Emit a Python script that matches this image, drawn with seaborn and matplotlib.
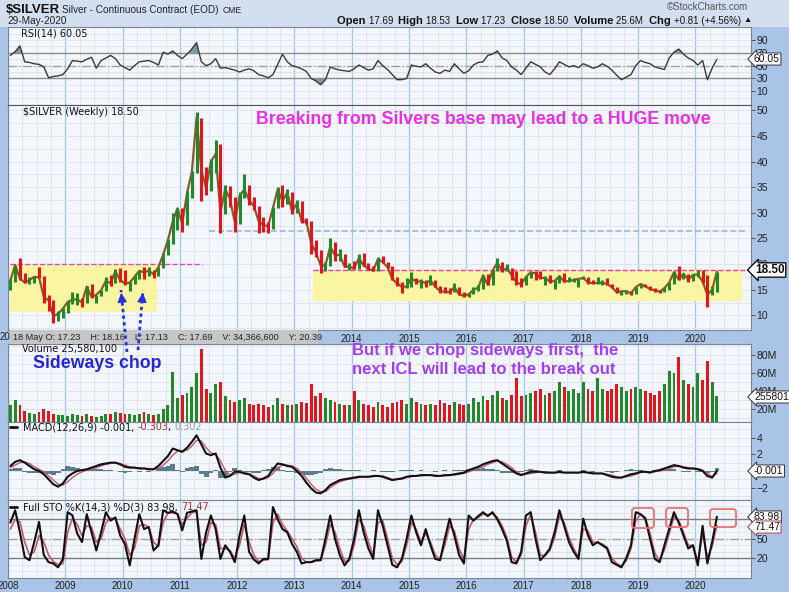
import matplotlib
matplotlib.use('Agg')
import numpy as np
import pandas as pd
import matplotlib.pyplot as plt
from matplotlib.patches import Rectangle, FancyBboxPatch, FancyArrowPatch
from matplotlib.lines import Line2D
import seaborn as sns

sns.set_theme(style='white')
plt.rcParams['font.family'] = ['Liberation Sans', 'DejaVu Sans']

W, H = 789, 592

# monthly values, Jan 2008 .. May 2020
close = [16.8, 19.8, 17.2, 16.4, 16.9, 17.5, 17.4, 13.6, 12.9, 9.8, 10.3, 11.3,
         12.6, 13.1, 13.1, 12.5, 15.6, 13.6, 14.0, 14.9, 16.7, 16.3, 18.6, 16.9,
         16.2, 16.4, 17.5, 18.7, 18.4, 18.7, 18.0, 19.4, 21.8, 24.7, 28.3, 30.9,
         27.9, 33.9, 37.9, 48.6, 38.3, 34.9, 40.0, 41.5, 30.1, 34.7, 32.7, 28.2,
         33.3, 34.6, 32.5, 31.3, 28.4, 27.6, 27.4, 31.0, 34.6, 32.3, 34.0, 30.3,
         31.8, 28.4, 28.3, 24.1, 22.3, 19.7, 19.8, 23.4, 21.7, 21.8, 19.5, 19.5,
         19.1, 21.2, 19.7, 19.1, 18.7, 21.0, 20.4, 19.4, 17.1, 16.2, 15.6, 15.6,
         17.2, 16.6, 16.6, 16.3, 16.8, 15.6, 14.7, 14.6, 14.5, 15.5, 14.1, 13.8,
         14.1, 15.0, 15.4, 17.8, 16.0, 18.7, 20.3, 18.7, 19.2, 17.8, 16.5, 16.0,
         17.5, 18.4, 18.2, 17.3, 17.3, 16.6, 16.7, 17.6, 16.6, 16.7, 16.9, 17.1,
         17.3, 16.4, 16.3, 16.3, 16.4, 16.1, 15.5, 14.5, 14.7, 14.7, 14.3, 15.5,
         16.1, 15.7, 15.1, 14.9, 14.6, 15.3, 16.4, 18.4, 17.0, 18.1, 17.0, 17.9,
         18.0, 16.6, 14.0, 15.0, 18.5]
high = [17.0, 19.9, 21.2, 18.2, 17.5, 17.6, 19.5, 17.7, 13.9, 12.9, 10.9, 11.5,
        12.7, 14.6, 14.3, 13.4, 15.7, 16.2, 14.0, 15.0, 17.4, 17.9, 19.0, 19.2,
        18.8, 16.5, 17.8, 18.8, 19.5, 19.5, 18.8, 19.5, 22.1, 24.9, 30.0, 30.9,
        31.0, 34.3, 38.1, 49.8, 48.6, 38.9, 40.6, 44.3, 43.5, 35.5, 35.3, 33.1,
        34.0, 37.5, 35.4, 33.2, 31.4, 29.2, 28.2, 31.2, 35.0, 35.4, 34.6, 34.1,
        32.5, 32.3, 29.1, 28.5, 24.8, 22.8, 20.5, 25.0, 24.3, 22.9, 22.0, 20.2,
        20.6, 21.9, 22.1, 20.2, 19.7, 21.3, 21.6, 20.5, 19.6, 17.4, 16.5, 17.3,
        18.5, 17.3, 17.1, 16.9, 17.8, 16.9, 15.7, 15.6, 15.3, 16.4, 15.4, 14.5,
        14.4, 15.6, 15.9, 17.9, 18.0, 18.8, 21.1, 20.4, 20.1, 19.3, 18.7, 17.2,
        17.6, 18.5, 18.6, 18.6, 17.6, 17.8, 16.9, 17.9, 18.2, 17.4, 17.3, 17.1,
        17.6, 17.4, 16.8, 17.4, 16.9, 17.3, 16.2, 15.6, 14.8, 14.9, 14.8, 15.6,
        16.2, 16.2, 15.8, 15.3, 15.0, 15.5, 16.6, 18.7, 19.6, 18.2, 18.1, 18.1,
        18.9, 18.9, 17.9, 15.8, 18.5]
low = [14.9, 16.6, 16.9, 16.3, 16.2, 16.3, 17.2, 12.5, 10.9, 8.5, 8.8, 9.5,
       10.5, 12.2, 12.1, 11.6, 12.4, 13.4, 12.5, 13.7, 14.8, 15.8, 16.3, 16.6,
       16.0, 14.7, 16.2, 17.1, 17.0, 17.6, 17.3, 17.6, 19.2, 21.9, 24.0, 26.7,
       26.3, 27.7, 32.9, 37.8, 32.3, 33.5, 34.3, 37.7, 26.1, 29.7, 31.1, 26.2,
       27.9, 32.9, 31.5, 30.6, 26.1, 26.2, 26.0, 26.9, 31.0, 31.2, 31.7, 29.7,
       30.0, 28.0, 27.9, 22.0, 21.3, 18.2, 18.6, 19.6, 20.7, 20.6, 19.5, 18.8,
       19.1, 19.1, 19.6, 18.9, 18.7, 18.7, 20.3, 19.3, 16.9, 15.8, 14.3, 15.3,
       15.6, 16.1, 15.3, 15.6, 16.0, 15.6, 14.3, 14.3, 14.2, 14.5, 13.9, 13.6,
       13.6, 14.1, 14.8, 15.1, 15.9, 15.9, 18.6, 18.5, 18.6, 16.9, 16.0, 15.6,
       15.9, 17.2, 16.8, 17.1, 15.9, 16.4, 15.2, 16.3, 16.6, 16.5, 16.6, 15.6,
       17.0, 16.2, 16.1, 16.2, 16.0, 16.0, 15.4, 14.3, 13.9, 14.2, 13.9, 14.2,
       15.3, 15.5, 14.9, 14.6, 14.3, 14.6, 15.0, 16.2, 16.9, 17.0, 16.6, 16.7,
       17.4, 16.4, 11.6, 13.9, 14.6]
first_open = 15.5

# volume, millions
volume = [24, 30, 24, 18, 16, 15, 17, 20, 18, 15, 13, 13,
          12, 15, 13, 12, 14, 12, 11, 12, 15, 14, 17, 16,
          15, 14, 13, 15, 17, 15, 13, 15, 20, 24, 61, 32,
          36, 38, 44, 60, 87, 42, 38, 48, 50, 34, 30, 28,
          30, 32, 26, 24, 26, 24, 22, 24, 32, 26, 24, 25,
          26, 28, 27, 48, 34, 38, 32, 30, 28, 26, 25, 24,
          40, 30, 26, 24, 22, 28, 24, 22, 27, 28, 30, 26,
          32, 28, 26, 24, 26, 25, 30, 27, 25, 28, 26, 24,
          26, 32, 28, 34, 30, 36, 40, 32, 30, 36, 55, 34,
          36, 38, 40, 42, 36, 38, 40, 50, 44, 40, 42, 38,
          50, 42, 40, 55, 42, 40, 42, 48, 44, 40, 42, 45,
          42, 40, 38, 36, 40, 48, 62, 60, 78, 52, 48, 44,
          60, 52, 73, 50, 34]

rsi = [66, 72, 81, 56, 55, 53, 52, 48, 31, 33, 34, 36,
       45, 58, 57, 56, 60, 63, 46, 58, 62, 66, 61, 51,
       47, 43, 50, 56, 57, 58, 55, 51, 71, 68, 73, 66,
       61, 68, 76, 86, 56, 50, 53, 61, 46, 47, 45, 43,
       40, 43, 45, 42, 36, 34, 31, 36, 52, 68, 56, 50,
       48, 45, 41, 30, 26, 20, 28, 48, 45, 43, 42, 41,
       45, 51, 47, 43, 45, 58, 50, 44, 36, 28, 28, 30,
       51, 49, 48, 53, 46, 40, 38, 43, 41, 53, 45, 38,
       42, 51, 55, 56, 66, 68, 73, 62, 58, 48, 43, 36,
       46, 56, 52, 48, 40, 36, 45, 56, 52, 48, 50, 47,
       53, 50, 46, 48, 53, 49, 43, 35, 28, 32, 36, 50,
       58, 55, 53, 48, 46, 44, 62, 71, 76, 68, 62, 58,
       51, 58, 28, 46, 60]

macd = [0.6, 1.1, 1.3, 1.0, 0.6, 0.2, 0.0, -0.4, -1.0, -1.6, -1.9, -1.5,
        -0.7, -0.3, 0.0, 0.1, 0.2, 0.4, 0.6, 0.8, 0.9, 1.0, 1.0, 0.8,
        0.5, 0.4, 0.4, 0.3, 0.3, 0.2, 0.2, 0.6, 1.2, 1.8, 2.7, 2.5,
        2.3, 2.8, 3.5, 4.3, 3.2, 2.1, 1.9, 2.1, 0.4, -0.8, -0.6, -0.1,
        -0.1, -0.3, -0.4, -0.8, -1.1, -0.9, -0.6, 0.2, 0.9, 0.8, 0.6, 0.5,
        0.0, -0.6, -1.4, -2.1, -2.6, -2.7, -2.3, -1.7, -1.4, -1.1, -1.0, -0.9,
        -0.8, -0.7, -0.7, -0.7, -0.6, -0.6, -0.7, -0.9, -1.1, -1.0, -0.9, -0.7,
        -0.6, -0.6, -0.5, -0.5, -0.5, -0.6, -0.6, -0.5, -0.5, -0.4, -0.3, -0.2,
        0.1, 0.3, 0.5, 0.8, 1.0, 1.2, 1.3, 0.9, 0.5, 0.1, -0.3, -0.5,
        -0.3, -0.1, -0.1, -0.1, -0.2, -0.2, -0.2, -0.1, -0.2, -0.2, -0.2, -0.2,
        -0.1, -0.2, -0.3, -0.3, -0.3, -0.5, -0.7, -0.8, -0.8, -0.6, -0.4, -0.3,
        -0.1, -0.1, -0.2, 0.0, 0.1, 0.3, 0.5, 0.7, 0.6, 0.4, 0.3, 0.3,
        0.2, 0.0, -0.6, -0.8, 0.0]
macd_signal = [0.4, 0.7, 1.0, 1.1, 0.9, 0.5, 0.2, -0.1, -0.6, -1.1, -1.6, -1.7,
               -1.3, -0.8, -0.4, -0.1, 0.1, 0.2, 0.4, 0.6, 0.8, 0.9, 1.0, 0.9,
               0.7, 0.5, 0.4, 0.4, 0.3, 0.3, 0.2, 0.3, 0.7, 1.2, 1.9, 2.4,
               2.4, 2.5, 3.0, 3.7, 3.6, 2.8, 2.2, 2.0, 1.2, 0.1, -0.5, -0.4,
               -0.2, -0.2, -0.3, -0.6, -0.9, -1.0, -0.8, -0.3, 0.4, 0.7, 0.7, 0.6,
               0.3, -0.2, -0.9, -1.6, -2.2, -2.5, -2.5, -2.0, -1.6, -1.3, -1.1, -1.0,
               -0.9, -0.8, -0.7, -0.7, -0.7, -0.6, -0.6, -0.8, -1.0, -1.0, -1.0, -0.8,
               -0.7, -0.6, -0.6, -0.5, -0.5, -0.5, -0.6, -0.6, -0.5, -0.5, -0.4, -0.3,
               -0.1, 0.1, 0.3, 0.5, 0.8, 1.0, 1.2, 1.1, 0.8, 0.4, -0.1, -0.4,
               -0.4, -0.3, -0.2, -0.1, -0.1, -0.2, -0.2, -0.2, -0.2, -0.2, -0.2, -0.2,
               -0.2, -0.2, -0.2, -0.3, -0.3, -0.4, -0.5, -0.7, -0.8, -0.7, -0.6, -0.4,
               -0.2, -0.1, -0.1, -0.1, 0.0, 0.1, 0.3, 0.5, 0.6, 0.5, 0.4, 0.3,
               0.3, 0.1, -0.3, -0.7, -0.3]
macd_hist = [0.2, 0.4, 0.3, -0.1, -0.3, -0.3, -0.2, -0.3, -0.4, -0.5, -0.3, 0.2,
             0.6, 0.5, 0.4, 0.2, 0.1, 0.2, 0.2, 0.2, 0.1, 0.1, 0.0, -0.1,
             -0.2, -0.1, 0.0, -0.1, 0.0, -0.1, 0.0, 0.3, 0.5, 0.6, 0.8, 0.1,
             -0.1, 0.3, 0.5, 0.6, -0.4, -0.7, -0.3, 0.1, -0.8, -0.9, -0.1, 0.3,
             0.1, -0.1, -0.1, -0.2, -0.2, 0.1, 0.2, 0.5, 0.5, 0.1, -0.1, -0.1,
             -0.3, -0.4, -0.5, -0.5, -0.4, -0.2, 0.2, 0.3, 0.2, 0.2, 0.1, 0.1,
             0.1, 0.1, 0.0, 0.0, 0.1, 0.0, -0.1, -0.1, -0.1, 0.0, 0.1, 0.1,
             0.1, 0.0, 0.1, 0.0, 0.0, -0.1, 0.0, 0.1, 0.0, 0.1, 0.1, 0.1,
             0.2, 0.2, 0.2, 0.3, 0.2, 0.2, 0.1, -0.2, -0.3, -0.3, -0.2, -0.1,
             0.1, 0.2, 0.1, 0.0, -0.1, 0.0, 0.0, 0.1, 0.0, 0.0, 0.0, 0.0,
             0.1, 0.0, -0.1, 0.0, 0.0, -0.1, -0.2, -0.1, 0.0, 0.1, 0.2, 0.1,
             0.1, 0.0, -0.1, 0.1, 0.1, 0.2, 0.2, 0.2, 0.0, -0.1, -0.1, 0.0,
             -0.1, -0.1, -0.3, -0.1, 0.3]

sto_k = [75, 94, 60, 22, 17, 45, 76, 25, 14, 12, 6, 19,
         91, 86, 58, 45, 88, 60, 32, 60, 91, 78, 83, 55,
         42, 9, 50, 88, 65, 68, 32, 40, 94, 90, 92, 88,
         63, 90, 92, 94, 19, 60, 86, 65, 19, 40, 30, 14,
         55, 86, 30, 18, 12, 19, 19, 99, 80, 65, 60, 42,
         30, 12, 14, 14, 17, 17, 50, 86, 50, 25, 9, 19,
         50, 94, 60, 35, 19, 94, 70, 40, 10, 6, 19, 50,
         86, 60, 40, 65, 40, 19, 17, 50, 81, 55, 25, 12,
         86, 78, 85, 91, 85, 91, 80, 65, 47, 14, 12, 30,
         86, 91, 50, 17, 25, 35, 60, 94, 70, 45, 30, 19,
         81, 55, 40, 45, 40, 35, 14, 10, 6, 20, 40, 91,
         88, 81, 50, 19, 14, 40, 65, 91, 75, 55, 35, 40,
         9, 70, 12, 45, 84]
sto_d = [65, 80, 76, 45, 25, 30, 55, 45, 25, 15, 10, 12,
         60, 82, 72, 55, 70, 68, 45, 50, 75, 82, 80, 65,
         50, 25, 35, 70, 72, 68, 45, 38, 75, 90, 90, 89,
         72, 82, 90, 92, 40, 45, 75, 72, 35, 35, 32, 20,
         40, 72, 45, 25, 15, 17, 18, 75, 88, 72, 62, 50,
         38, 20, 14, 14, 16, 17, 40, 72, 60, 35, 15, 16,
         40, 80, 70, 45, 25, 75, 78, 50, 20, 10, 15, 40,
         75, 65, 45, 58, 45, 25, 18, 40, 70, 62, 35, 18,
         65, 80, 83, 88, 87, 89, 83, 70, 52, 22, 14, 25,
         70, 88, 60, 25, 24, 32, 52, 85, 75, 52, 35, 22,
         65, 62, 45, 44, 42, 37, 20, 12, 8, 16, 35, 78,
         88, 83, 58, 28, 16, 33, 58, 84, 78, 60, 40, 40,
         15, 58, 22, 38, 71]

n = len(close)
year = 2008 + (np.arange(n) + 0.5) / 12
df = pd.DataFrame(dict(year=year, close=close, high=high, low=low, volume=volume,
                       rsi=rsi, macd=macd, signal=macd_signal, hist=macd_hist,
                       k=sto_k, d=sto_d))
prev_close = np.r_[first_open, df['close'].values[:-1]]
GREEN, RED = '#23882a', '#e0161c'
colors = np.where(df['close'].values >= prev_close, GREEN, RED)
# each bar reaches back to the previous close so the series reads as one ribbon
bar_lo = np.minimum(df['low'].values, prev_close)
bar_hi = np.maximum(df['high'].values, prev_close)

fig = plt.figure(figsize=(W / 100, H / 100), dpi=100, facecolor='#a9c4e6')


def px_axes(x0, y0, x1, y1):
    return fig.add_axes([x0 / W, 1 - y1 / H, (x1 - x0) / W, (y1 - y0) / H])


def ftext(px, py, s, **kw):
    kw.setdefault('va', 'center')
    kw.setdefault('ha', 'left')
    return fig.text(px / W, 1 - py / H, s, **kw)


def style(ax, ylim, yticks, ygrid):
    ax.set_facecolor('#f3f6fb')
    ax.set_xlim(2008.0, 2020.97)
    ax.set_ylim(*ylim)
    ax.set_xticks(range(2008, 2021))
    ax.set_xticks(np.arange(2008, 2021, 0.25), minor=True)
    ax.set_yticks(yticks)
    ax.set_yticks(ygrid, minor=True)
    ax.grid(True, which='minor', color='#dbe2ec', lw=0.6)
    ax.grid(True, which='major', axis='x', color='#a6c6e6', lw=0.9)
    ax.grid(True, which='major', axis='y', color='#dbe2ec', lw=0.6)
    ax.set_axisbelow(True)
    ax.tick_params(axis='x', which='both', length=0, labelbottom=False)
    ax.yaxis.tick_right()
    ax.tick_params(axis='y', which='major', length=3, width=0.6, color='#444',
                   labelsize=7.5, labelcolor='#222', pad=1)
    ax.tick_params(axis='y', which='minor', length=0)
    for s in ax.spines.values():
        s.set_color('#7a8696')
        s.set_linewidth(0.8)
    ax.set_xlabel('')
    ax.set_ylabel('')


# header band
fig.add_artist(Rectangle((0, 1 - 27 / H), 1, 27 / H, transform=fig.transFigure,
                         fc='#d3dfee', ec='none', zorder=-1))

# RSI
ax_rsi = px_axes(8, 27, 751, 105)
r = df['rsi'].values
ax_rsi.fill_between(year, r, 70, where=r > 70, interpolate=True, color='#7c98a8', lw=0)
ax_rsi.fill_between(year, r, 30, where=r < 30, interpolate=True, color='#7c98a8', lw=0)
ax_rsi.axhline(70, color='#8c8c8c', lw=1.0)
ax_rsi.axhline(30, color='#8c8c8c', lw=1.0)
ax_rsi.axhline(50, color='#a0a0a0', lw=1.0, ls='-.')
sns.lineplot(data=df, x='year', y='rsi', ax=ax_rsi, color='#3a3a3a', lw=1.0)
style(ax_rsi, (-11.6, 110.5), [10, 30, 50, 70, 90], np.arange(0, 101, 10))

# price
ax_p = px_axes(8, 105, 751, 330)
ax_p.add_patch(Rectangle((2008.035, 10.6), 2010.60 - 2008.035, 20.0 - 10.6,
                         fc='#faf5a2', ec='none', zorder=1))
ax_p.add_patch(Rectangle((2013.32, 12.7), 2020.81 - 2013.32, 18.9 - 12.7,
                         fc='#faf5a2', ec='none', zorder=1))
ax_p.plot([2008.035, 2011.39], [20.0, 20.0], color='#dd44cc', lw=1.0, ls='--', zorder=2)
ax_p.plot([2013.32, 2020.97], [18.9, 18.9], color='#f2399e', lw=1.0, ls='--', zorder=2)
ax_p.plot([2011.51, 2020.91], [26.5, 26.5], color='#9db7d9', lw=1.2, ls='--', zorder=2)
sns.lineplot(data=df, x='year', y='close', ax=ax_p, color='#8a5a24', lw=1.6, zorder=2.5)
ax_p.vlines(df['year'], bar_lo, bar_hi, colors=colors, lw=2.2, zorder=3)
style(ax_p, (7.13, 51.07), list(range(10, 51, 5)), np.arange(7.5, 51, 2.5))
ax_p.spines['top'].set_color('#555')
ax_p.set_xticklabels([''] * 6 + [str(y) for y in range(2014, 2021)])
ax_p.tick_params(axis='x', which='major', labelbottom=True, labelsize=7,
                 labelcolor='#222', pad=3)

# volume
ax_v = px_axes(8, 344, 751, 422)
ax_v.bar(df['year'], df['volume'], width=0.6 / 12, color=colors, lw=0, zorder=3)
style(ax_v, (5.6, 92.2), [20, 40, 60, 80], np.arange(10, 92, 10))
ax_v.set_yticklabels(['20M', '40M', '60M', '80M'])

# MACD
ax_m = px_axes(8, 422, 751, 500)
ax_m.bar(df['year'], df['hist'], width=1 / 12, color='#5e7d8c', lw=0, zorder=2)
sns.lineplot(data=df, x='year', y='signal', ax=ax_m, color='#c25a6a', lw=1.0)
sns.lineplot(data=df, x='year', y='macd', ax=ax_m, color='#111111', lw=1.5)
style(ax_m, (-3.5, 5.9), [-2, 2, 4], np.arange(-3, 6, 1))

# Full stochastics
ax_s = px_axes(8, 500, 751, 578)
ax_s.axhline(80, color='#7d7d7d', lw=1.0)
ax_s.axhline(20, color='#7d7d7d', lw=1.0)
ax_s.axhline(50, color='#a0a0a0', lw=1.0, ls='-.')
sns.lineplot(data=df, x='year', y='d', ax=ax_s, color='#c25a6a', lw=1.2)
sns.lineplot(data=df, x='year', y='k', ax=ax_s, color='#111111', lw=1.5)
style(ax_s, (-10.4, 109.8), [20, 50], np.arange(0, 101, 10))
ax_s.tick_params(axis='x', which='major', labelbottom=True, labelsize=7,
                 labelcolor='#222', pad=2)

renderer = fig.canvas.get_renderer()


def seq(px, py, parts, **kw):
    for s, c, extra in parts:
        t = ftext(px, py, s, color=c, **extra, **kw)
        px = t.get_window_extent(renderer).x1
    return px


# header texts
ftext(6, 10, '$SILVER', fontsize=9.5, fontweight='bold', color='#111')
ftext(62, 10, 'Silver - Continuous Contract (EOD)', fontsize=7.2, color='#222')
ftext(223, 10.5, 'CME', fontsize=6.2, color='#222')
ftext(7, 21, '29-May-2020', fontsize=7.2, color='#222')
ftext(667, 7, '\u00a9StockCharts.com', fontsize=7, color='#555')
B = dict(fontsize=8, fontweight='bold')
N = dict(fontsize=7)
seq(337, 21, [('Open ', '#111', B), ('17.69  ', '#111', N), ('High ', '#111', B),
              ('18.53  ', '#111', N), ('Low ', '#111', B), ('17.23  ', '#111', N),
              ('Close ', '#111', B), ('18.50  ', '#111', N), ('Volume ', '#111', B),
              ('25.6M  ', '#111', N), ('Chg ', '#111', B), ('+0.81 (+4.56%) ', '#111', N),
              ('\u25b2', '#111', dict(fontsize=6))])

# panel legends
leg = dict(fontsize=7, family='DejaVu Sans', zorder=6)
ftext(21, 33, 'RSI(14) 60.05', color='#111', **leg)
ftext(23, 112, '$SILVER (Weekly) 18.50', color='#111', **leg)
ftext(22, 349, 'Volume 25,580,100', color='#111', **leg)
seq(23, 427, [('MACD(12,26,9) -0.001, ', '#111', {}), ('-0.303', '#a23040', {}),
              (', ', '#111', {}), ('0.302', '#8fa0ae', {})], **leg)
seq(23, 507, [('Full STO %K(14,3) %D(3) 83.98, ', '#111', {}), ('71.47', '#a23040', {})], **leg)
for py in (427, 507):
    fig.add_artist(Line2D([10 / W, 17 / W], [1 - py / H] * 2, color='#111', lw=2))

# info box over the date strip
fig.add_artist(Rectangle((10 / W, 1 - 344 / H), 308 / W, 14 / H, transform=fig.transFigure,
                         fc='#c6c6c6', ec='none', zorder=5))
ftext(0, 337, '20', fontsize=7, color='#222')
ftext(13, 337, '18 May O: 17.23    H: 18.16    L: 17.13    C: 17.69    V: 34,366,600    Y: 20.39',
      fontsize=6.6, color='#222', zorder=6)

# value tags on the right
tag = dict(fontsize=7.5, zorder=8, color='#111')
ftext(754, 59, '60.05', bbox=dict(boxstyle='larrow,pad=0.1', fc='white', ec='#333', lw=0.7), **tag)
ftext(755, 270, '18.50', fontweight='bold',
      bbox=dict(boxstyle='larrow,pad=0.1', fc='white', ec='#111', lw=1.0),
      fontsize=8.5, zorder=8, color='#111')
ftext(754, 397, '25580100', bbox=dict(boxstyle='larrow,pad=0.1', fc='white', ec='#333', lw=0.7), **tag)
ftext(754, 471, '-0.001', bbox=dict(boxstyle='larrow,pad=0.1', fc='white', ec='#333', lw=0.7), **tag)
ftext(754, 517, '83.98', bbox=dict(boxstyle='larrow,pad=0.1', fc='white', ec='#333', lw=0.7), **tag)
ftext(754, 527, '71.47', bbox=dict(boxstyle='larrow,pad=0.1', fc='white', ec='#b04050', lw=0.7), **tag)

# annotations
ftext(256, 119, 'Breaking from Silvers base may lead to a HUGE move', fontsize=12.8,
      fontweight='bold', color='#ea2ee6', zorder=7)
ftext(33, 363, 'Sideways chop', fontsize=12.8, fontweight='bold', color='#2626d6', zorder=7)
ftext(352, 360, 'But if we chop sideways first,  the\nnext ICL will lead to the break out',
      fontsize=12, fontweight='bold', color='#a23ef0', linespacing=1.25, zorder=7)

# dotted arrows from the label up into the base
for (x0, y0), (x1, y1) in [((127, 352), (121, 290)), ((138, 350), (143, 290))]:
    fig.add_artist(Line2D([x0 / W, x1 / W], [1 - y0 / H, 1 - y1 / H], color='#2233e0',
                          lw=2, ls=(0, (1.2, 1.2)), zorder=7))
    dx, dy = (x1 - x0), (y1 - y0)
    L = np.hypot(dx, dy)
    sx, sy = x1 - dx / L * 10, y1 - dy / L * 10
    fig.add_artist(FancyArrowPatch((sx / W, 1 - sy / H), (x1 / W, 1 - y1 / H),
                                   transform=fig.transFigure, arrowstyle='-|>',
                                   mutation_scale=14, color='#2233e0', lw=1, zorder=7))

# red boxes on the stochastic panel
for x0, y0, x1, y1 in [(632, 508, 654, 528), (666, 508, 688, 527), (710, 509, 736, 527)]:
    fig.add_artist(FancyBboxPatch((x0 / W, 1 - y1 / H), (x1 - x0) / W, (y1 - y0) / H,
                                  boxstyle='round,pad=0,rounding_size=%f' % (3 / W),
                                  mutation_aspect=W / H, transform=fig.transFigure,
                                  fc='none', ec='#ef7070', lw=1.3, zorder=7))

fig.savefig('out.png', dpi=100, facecolor=fig.get_facecolor())
